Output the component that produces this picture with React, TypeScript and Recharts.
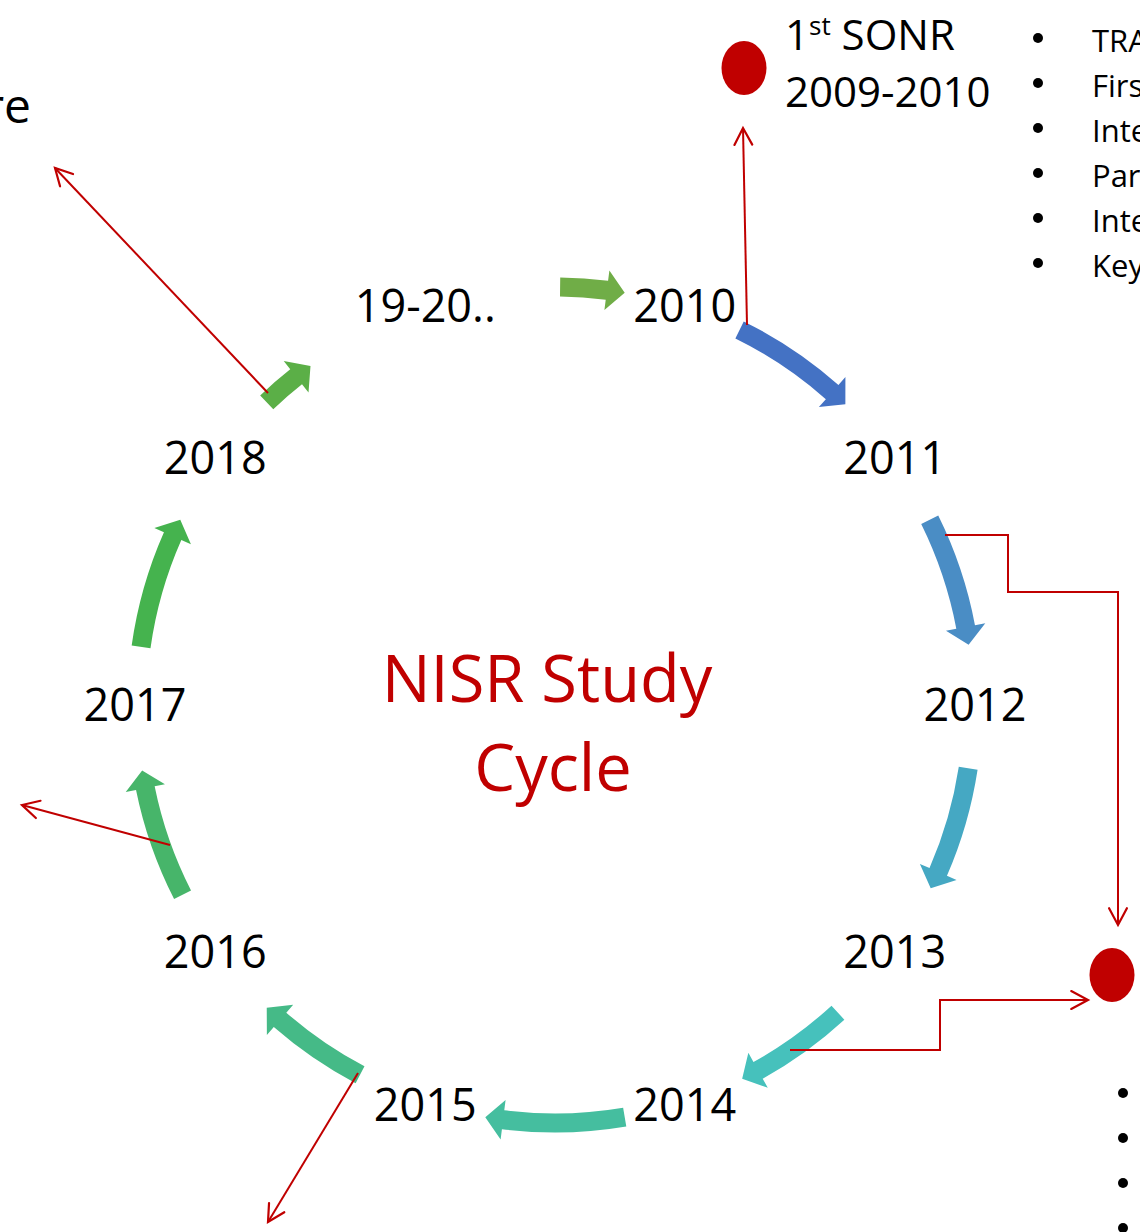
import React from "react";
import { PieChart, Pie, ScatterChart, Scatter, XAxis, YAxis } from "recharts";

// ---------- data ----------
const cycleYears = ["19-20..", "2010", "2011", "2012", "2013", "2014", "2015", "2016", "2017", "2018"];
const cycleTitle = ["NISR Study", "Cycle"];

// clockwise arc arrows between the years: angular length of each arrow and of the gap after it (degrees)
const arrowNames = ["19-20..→2010", "2010→2011", "2011→2012", "2012→2013", "2013→2014", "2014→2015", "2015→2016", "2016→2017", "2017→2018", "2018→19-20.."];
const arrowSpans = [8.9, 17.8, 18, 17.3, 16, 19.2, 15.8, 18, 18.3, 7.8];
const gapSpans = [16.6, 19.7, 17, 21.4, 17, 18.2, 19.4, 17, 20.1, 36.5];
const arrowColors = ["#70AD47", "#4472C4", "#4A8DC5", "#45A8C3", "#46C1BC", "#45BE9F", "#45BA87", "#47B56A", "#45B34E", "#5BAF47"];

const sonrOrdinal = ["1", "st", " SONR"];
const sonrYears = "2009-2010";
const bulletFragments = ["TRA", "Firs", "Inte", "Par", "Inte", "Key"];
const lowerBulletCount = 4;
const cornerFragment = "re";

// ---------- layout (not data) ----------
const W = 1140;
const H = 1232;
const CX = 555;
const CY = 705;
const RING = 420;
const FONT = "'Open Sans', 'Noto Sans', sans-serif";
const RED = "#C00000";
const RAD = Math.PI / 180;

const connectorRoutes: number[][][] = [
  [[747, 325], [743, 128]],
  [[945, 535], [1008, 535], [1008, 592], [1118, 592], [1118, 925]],
  [[790, 1050], [940, 1050], [940, 1000], [1088, 1000]],
  [[268, 393], [55, 168]],
  [[170, 845], [22, 805]],
  [[358, 1073], [268, 1222]],
];
const dotSpots = [{ x: 744, y: 68 }, { x: 1112, y: 975 }];

// ---------- built tables ----------
const yearData = cycleYears.map((name) => ({ name, value: 1 }));
const arrowData: any[] = [];
arrowSpans.forEach((s, i) => {
  arrowData.push({ name: arrowNames[i], value: s, kind: "arrow", color: arrowColors[i] });
  arrowData.push({ name: "gap" + i, value: gapSpans[i], kind: "gap", color: "none" });
});
const arrowStart = 89.3;

const connectorData = connectorRoutes.map((route) =>
  route.map(([x, y], i) => {
    const prev = i > 0 ? route[i - 1] : null;
    return { x, y, head: i === route.length - 1, px: prev ? prev[0] : x, py: prev ? prev[1] : y };
  })
);

const textItems: any[] = [
  { x: 785, y: 50, kind: "sonr" },
  { x: 785, y: 107, kind: "years" },
  { x: 31, y: 123, kind: "fragment" },
  { x: 550, y: 705, kind: "title" },
  ...bulletFragments.map((t, i) => ({ x: 1038, y: 38 + 45 * i, kind: "bullet", text: t })),
  ...Array.from({ length: lowerBulletCount }, (_, i) => ({ x: 1123, y: 1093 + 45 * i, kind: "dotOnly" })),
];

// ---------- helpers ----------
const polar = (cx: number, cy: number, r: number, a: number) => ({
  x: cx + r * Math.cos(-a * RAD),
  y: cy + r * Math.sin(-a * RAD),
});

function renderArrow(props: any) {
  const { cx, cy, startAngle, endAngle } = props;
  const kind = props.kind ?? props.payload?.kind;
  const color = props.color ?? props.payload?.color;
  if (kind !== "arrow") return <g />;
  const r = 418;
  const half = 9.5;
  const headHalf = 20;
  const headLen = 18;
  const headDeg = (headLen / r) / RAD;
  const hAng = endAngle + headDeg;
  const f = (p: { x: number; y: number }) => `${p.x.toFixed(2)} ${p.y.toFixed(2)}`;
  const d = [
    `M ${f(polar(cx, cy, r + half, startAngle))}`,
    `A ${r + half} ${r + half} 0 0 1 ${f(polar(cx, cy, r + half, hAng))}`,
    `L ${f(polar(cx, cy, r + headHalf, hAng))}`,
    `L ${f(polar(cx, cy, r, endAngle))}`,
    `L ${f(polar(cx, cy, r - headHalf, hAng))}`,
    `L ${f(polar(cx, cy, r - half, hAng))}`,
    `A ${r - half} ${r - half} 0 0 0 ${f(polar(cx, cy, r - half, startAngle))}`,
    "Z",
  ].join(" ");
  return <path d={d} fill={color} stroke="none" />;
}

function renderYear(props: any) {
  const { cx, cy, midAngle, outerRadius } = props;
  const name = props.name ?? props.payload?.name;
  const p = polar(cx, cy, outerRadius, midAngle);
  return (
    <text x={p.x} y={p.y} dy="0.36em" textAnchor="middle" fontSize={45} fontFamily={FONT} fill="#000">
      {name}
    </text>
  );
}

function ConnectorHead(props: any) {
  const { cx, cy, payload } = props;
  if (!payload || !payload.head) return <g />;
  const ang = Math.atan2(payload.y - payload.py, payload.x - payload.px);
  const arm = 19;
  const spread = 28 * RAD;
  const a1 = { x: cx - arm * Math.cos(ang - spread), y: cy - arm * Math.sin(ang - spread) };
  const a2 = { x: cx - arm * Math.cos(ang + spread), y: cy - arm * Math.sin(ang + spread) };
  return (
    <path
      d={`M ${a1.x} ${a1.y} L ${cx} ${cy} L ${a2.x} ${a2.y}`}
      fill="none"
      stroke={RED}
      strokeWidth={2.2}
      strokeLinecap="round"
      strokeLinejoin="miter"
    />
  );
}

function RedDot(props: any) {
  const { cx, cy } = props;
  return <ellipse cx={cx} cy={cy} rx={22.5} ry={27} fill={RED} />;
}

function TextShape(props: any) {
  const { cx, cy, payload } = props;
  switch (payload.kind) {
    case "sonr":
      return (
        <text x={cx} y={cy} fontSize={42} fontFamily={FONT} fill="#000">
          <tspan>{sonrOrdinal[0]}</tspan>
          <tspan dy={-15} fontSize={26}>{sonrOrdinal[1]}</tspan>
          <tspan dy={15} fontSize={42}>{sonrOrdinal[2]}</tspan>
        </text>
      );
    case "years":
      return (
        <text x={cx} y={cy} fontSize={42} fontFamily={FONT} fill="#000">
          {sonrYears}
        </text>
      );
    case "fragment":
      return (
        <text x={cx} y={cy} fontSize={48} fontFamily={FONT} fill="#000" textAnchor="end">
          {cornerFragment}
        </text>
      );
    case "title":
      return (
        <text fontSize={65} fontFamily={FONT} fill={RED} textAnchor="middle">
          <tspan x={cx - 3} y={cy - 3}>{cycleTitle[0]}</tspan>
          <tspan x={cx + 3} y={cy + 86}>{cycleTitle[1]}</tspan>
        </text>
      );
    case "bullet":
      return (
        <g>
          <circle cx={cx} cy={cy} r={5} fill="#000" />
          <text x={cx + 54} y={cy + 14} fontSize={31} fontFamily={FONT} fill="#000">
            {payload.text}
          </text>
        </g>
      );
    case "dotOnly":
      return <circle cx={cx} cy={cy} r={5} fill="#000" />;
    default:
      return <g />;
  }
}

export default function App() {
  return (
    <div style={{ position: "absolute", left: 0, top: 0, width: W, height: H, overflow: "hidden", background: "#fff" }}>
      <div style={{ position: "absolute", left: 0, top: 0 }}>
        <PieChart width={W} height={H} margin={{ top: 0, right: 0, bottom: 0, left: 0 }}>
          <Pie
            data={arrowData}
            dataKey="value"
            cx={CX}
            cy={CY}
            innerRadius={418}
            outerRadius={418}
            startAngle={arrowStart}
            endAngle={arrowStart - 360}
            fill="none"
            stroke="none"
            isAnimationActive={false}
            label={renderArrow}
            labelLine={false}
          />
          <Pie
            data={yearData}
            dataKey="value"
            cx={CX}
            cy={CY}
            innerRadius={RING}
            outerRadius={RING}
            startAngle={126}
            endAngle={-234}
            fill="none"
            stroke="none"
            isAnimationActive={false}
            label={renderYear}
            labelLine={false}
          />
        </PieChart>
      </div>
      <div style={{ position: "absolute", left: 0, top: 0 }}>
        <ScatterChart width={W} height={H} margin={{ top: 0, right: 0, bottom: 0, left: 0 }}>
          <XAxis type="number" dataKey="x" domain={[0, W]} allowDataOverflow hide />
          <YAxis type="number" dataKey="y" domain={[0, H]} allowDataOverflow reversed hide />
          <Scatter data={textItems} shape={TextShape} isAnimationActive={false} />
          {connectorData.map((pts, i) => (
            <Scatter
              key={"c" + i}
              data={pts}
              line={{ stroke: RED, strokeWidth: 2 }}
              shape={ConnectorHead}
              isAnimationActive={false}
            />
          ))}
          <Scatter data={dotSpots} shape={RedDot} isAnimationActive={false} />
        </ScatterChart>
      </div>
    </div>
  );
}
